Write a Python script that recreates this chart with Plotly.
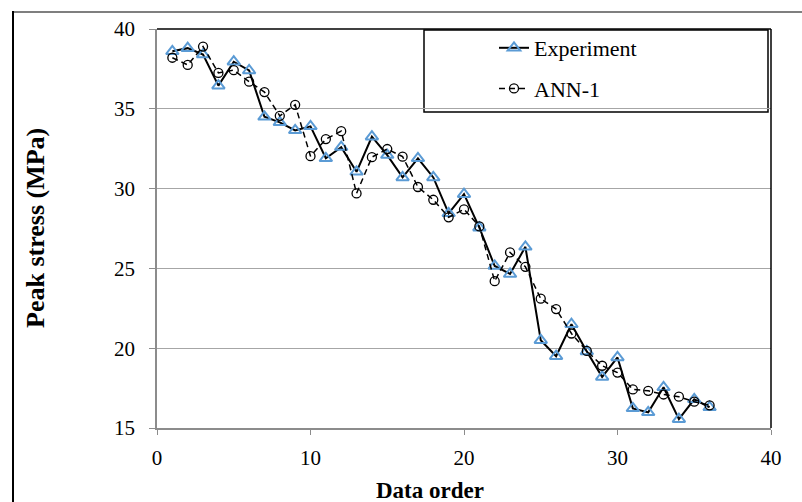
import plotly.graph_objects as go

data_order = list(range(1, 37))
experiment = [38.6, 38.8, 38.4, 36.45, 37.95, 37.4, 34.5, 34.15, 33.65, 33.9,
              31.9, 32.6, 31.05, 33.25, 32.1, 30.7, 31.9, 30.7, 28.45, 29.65,
              27.55, 25.15, 24.65, 26.35, 20.5, 19.5, 21.5, 19.8, 18.2, 19.42,
              16.23, 15.98, 17.55, 15.55, 16.8, 16.3]
ann1 = [38.2, 37.75, 38.9, 37.25, 37.42, 36.7, 36.05, 34.56, 35.25, 32.03,
        33.1, 33.6, 29.7, 31.97, 32.48, 32.0, 30.1, 29.3, 28.2, 28.7,
        27.63, 24.2, 26.0, 25.1, 23.1, 22.45, 20.92, 19.83, 18.9, 18.47,
        17.42, 17.33, 17.1, 16.96, 16.65, 16.42]
x_ticks = [0, 10, 20, 30, 40]
y_ticks = [15, 20, 25, 30, 35, 40]

SERIF = "Liberation Serif, Times New Roman, serif"

fig = go.Figure()
fig.add_trace(go.Scatter(
    x=data_order, y=experiment, name="Experiment", mode="lines+markers",
    legendgroup="a",
    line=dict(color="black", width=2),
    marker=dict(symbol="triangle-up-open", size=11, color="#5B9BD5",
                line=dict(color="#5B9BD5", width=2)),
))
fig.add_trace(go.Scatter(
    x=data_order, y=ann1, name="ANN-1", mode="lines+markers",
    legendgroup="b",
    line=dict(color="black", width=1.5, dash="6px,4px"),
    marker=dict(symbol="circle-open", size=9, color="black",
                line=dict(color="black", width=1.3)),
))

L, R, T, B = 157, 31, 29, 74
W, H = 802, 502
pw, ph = W - L - R, H - T - B


def px(x):
    return (x - L) / pw


def py(y):
    return (H - B - y) / ph


shapes = [
    # plot area top & right border
    dict(type="line", xref="paper", yref="paper", x0=0, x1=1, y0=1, y1=1,
         line=dict(color="black", width=1.5), layer="above"),
    dict(type="line", xref="paper", yref="paper", x0=1, x1=1, y0=0, y1=1,
         line=dict(color="black", width=1.5), layer="above"),
    # legend box
    dict(type="rect", xref="paper", yref="paper", x0=px(424), x1=px(768),
         y0=py(112), y1=py(30), line=dict(color="black", width=1.5),
         fillcolor="white", layer="below"),
    # outer chart frame (top & left)
    dict(type="line", xref="paper", yref="paper", x0=px(13), x1=px(802),
         y0=py(12), y1=py(12), line=dict(color="black", width=1.2)),
    dict(type="line", xref="paper", yref="paper", x0=px(13), x1=px(13),
         y0=py(502), y1=py(11), line=dict(color="black", width=2)),
]

annotations = [
    dict(text="<b>Data order</b>", xref="paper", yref="paper",
         x=px(430), y=py(490), xanchor="center", yanchor="middle",
         showarrow=False,
         font=dict(family=SERIF, size=23, color="black")),
    dict(text="<b>Peak stress (MPa)</b>", xref="paper", yref="paper",
         x=px(35), y=py(228), xanchor="center", yanchor="middle",
         showarrow=False, textangle=-90,
         font=dict(family=SERIF, size=26, color="black")),
]

fig.update_layout(
    width=W, height=H,
    margin=dict(l=L, r=R, t=T, b=B, autoexpand=False),
    paper_bgcolor="white", plot_bgcolor="white",
    font=dict(family=SERIF, size=21, color="black"),
    showlegend=True,
    legend=dict(x=px(494), y=py(27), xanchor="left", yanchor="top",
                bgcolor="rgba(0,0,0,0)", borderwidth=0,
                tracegroupgap=9,
                font=dict(family=SERIF, size=22, color="black")),
    shapes=shapes,
    annotations=annotations,
    xaxis=dict(range=[0, 40], tickvals=x_ticks, showgrid=False,
               zeroline=False, showline=True, linecolor="#8C8C8C",
               linewidth=1.5, ticks="outside", ticklen=5,
               tickcolor="#8C8C8C", ticklabelstandoff=5,
               tickfont=dict(family=SERIF, size=21, color="black")),
    yaxis=dict(range=[15, 40], tickvals=y_ticks, showgrid=True,
               gridcolor="#A6A6A6", gridwidth=1.2, zeroline=False,
               showline=True, linecolor="#8C8C8C", linewidth=1.5,
               ticks="outside", ticklen=6, tickcolor="#8C8C8C",
               ticklabelstandoff=10,
               tickfont=dict(family=SERIF, size=21, color="black")),
)

fig.write_html("out.html")
